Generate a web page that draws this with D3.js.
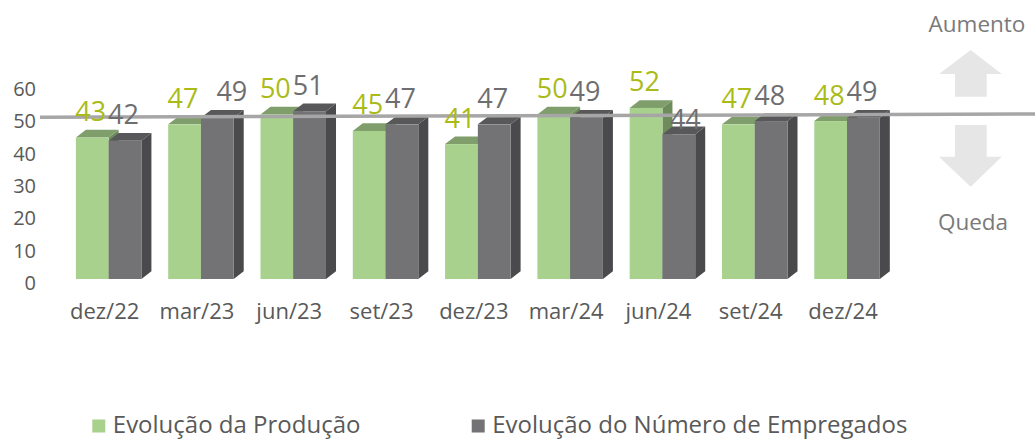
<!DOCTYPE html>
<html><head><meta charset="utf-8">
<script src="https://cdn.jsdelivr.net/npm/d3@7"></script>
<style>
html,body{margin:0;padding:0;background:#fff;}
svg{display:block;font-family:"Open Sans", Roboto, sans-serif;}
</style></head>
<body>
<svg id="chart" width="1035" height="439"></svg>
<script>
const categories = ["dez/22","mar/23","jun/23","set/23","dez/23","mar/24","jun/24","set/24","dez/24"];
const producao   = [43, 47, 50, 45, 41, 50, 52, 47, 48];
const empregados = [42, 49, 51, 47, 47, 49, 44, 48, 49];
const yTicks = [0, 10, 20, 30, 40, 50, 60];
const seriesNames = ["Evolução da Produção", "Evolução do Número de Empregados"];
const referenceValue = 50;

const svg = d3.select("#chart");
const W = 1035, H = 439;

// scales
const x = d3.scaleBand().domain(categories).range([62.5, 893.2]).paddingInner(0.29).paddingOuter(0.145);
const sub = d3.scaleBand().domain([0,1]).range([0, x.bandwidth()]);
const yBar = d3.scaleLinear().domain([0, 60]).range([279, 81.6]);
const yWall = d3.scaleLinear().domain([0, 60]).range([282.5, 88.3]);
const DX = 10, DY = 7.7;

const colors = [
  {front:"#a9d18e", top:"#7f9e6b", side:"#6e8c5b", label:"#aabb18"},
  {front:"#737376", top:"#58585b", side:"#4a4a4d", label:"#6e6e70"}
];

// y axis tick labels
const yAxis = d3.axisLeft(yWall).tickValues(yTicks).tickSize(0).tickPadding(0);
const ga = svg.append("g").attr("transform","translate(36,0)").call(yAxis);
ga.select(".domain").remove();
ga.selectAll("text").attr("font-size",20).attr("fill","#595959").attr("font-family","'Open Sans', sans-serif").attr("dy","0.35em");

// bars
const data = categories.map((c,i)=>({c, vals:[producao[i], empregados[i]]}));
const g = svg.append("g");
data.forEach(d=>{
  d.vals.forEach((v,s)=>{
    const x0 = x(d.c) + sub(s), w = sub.bandwidth();
    const top = yBar(v), base = yBar(0);
    const col = colors[s];
    g.append("path").attr("fill",col.side)
      .attr("d",`M${x0+w},${top}L${x0+w+DX},${top-DY}L${x0+w+DX},${base-DY}L${x0+w},${base}Z`);
    g.append("path").attr("fill",col.top)
      .attr("d",`M${x0},${top}L${x0+DX},${top-DY}L${x0+w+DX},${top-DY}L${x0+w},${top}Z`);
    g.append("rect").attr("x",x0).attr("y",top).attr("width",w).attr("height",base-top).attr("fill",col.front);
  });
});

// reference line
svg.append("line").attr("x1",40).attr("y1",yBar(referenceValue)+2.8).attr("x2",W).attr("y2",yBar(referenceValue)-0.5)
  .attr("stroke","#a6a6a6").attr("stroke-width",3.5);

// data labels
const nudge = {"mar/23":[[0,0],[16,0]], "jun/24":[[0,0],[8,11]]};
data.forEach(d=>{
  d.vals.forEach((v,s)=>{
    const n = (nudge[d.c]||[[0,0],[0,0]])[s];
    const cx = x(d.c) + sub(s) + sub.bandwidth()/2 - 1.5 + n[0];
    svg.append("text").attr("x",cx).attr("y",yBar(v)-16.5+n[1])
      .attr("text-anchor","middle").attr("font-size",27).attr("fill",colors[s].label).text(v);
  });
});

// x labels
svg.append("g").selectAll("text").data(categories).join("text")
  .attr("x",c=>x(c)+x.bandwidth()/2-4).attr("y",319)
  .attr("text-anchor","middle").attr("font-size",22).attr("fill","#595959").text(c=>c);

// arrows
const arrowCol = "#e6e6e6";
svg.append("path").attr("fill",arrowCol)
  .attr("d","M970.7,50L1001.7,74L986.7,74L986.7,96.7L955,96.7L955,74L939,74Z");
svg.append("path").attr("fill",arrowCol)
  .attr("d","M955,125L986.7,125L986.7,156.7L1001.7,156.7L970.7,186.7L939,156.7L955,156.7Z");
svg.append("text").attr("x",977).attr("y",31.5).attr("text-anchor","middle").attr("font-size",22.5).attr("fill","#7a7a7a").text("Aumento");
svg.append("text").attr("x",973).attr("y",230).attr("text-anchor","middle").attr("font-size",22.5).attr("fill","#7a7a7a").text("Queda");

// legend
const legX = [92.3, 471.7];
seriesNames.forEach((nm,s)=>{
  svg.append("rect").attr("x",legX[s]).attr("y",419.5).attr("width",13).attr("height",13).attr("fill",colors[s].front);
  svg.append("text").attr("x",legX[s]+20.5).attr("y",433).attr("font-size",24).attr("fill","#595959").text(nm);
});
</script>
</body></html>
